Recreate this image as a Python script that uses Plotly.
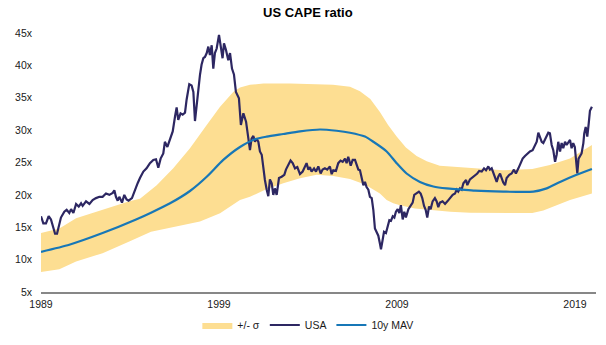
import plotly.graph_objects as go

# US CAPE ratio (decimal year, value)
usa_t = [
    1989.00, 1989.13, 1989.28, 1989.43, 1989.56, 1989.66, 1989.79, 1989.90, 1989.99,
    1990.12, 1990.31, 1990.44, 1990.59, 1990.69, 1990.82, 1990.97, 1991.12, 1991.25,
    1991.34, 1991.53, 1991.72, 1991.90, 1992.09, 1992.28, 1992.46, 1992.65, 1992.84,
    1993.03, 1993.12, 1993.21, 1993.31, 1993.40, 1993.55, 1993.68, 1993.81, 1993.92,
    1994.11, 1994.24, 1994.43, 1994.56, 1994.75, 1994.93, 1995.12, 1995.31, 1995.46,
    1995.59, 1995.72, 1995.87, 1995.96, 1996.10, 1996.25, 1996.40, 1996.53, 1996.62,
    1996.71, 1996.84, 1996.96, 1997.09, 1997.18, 1997.33, 1997.46, 1997.56, 1997.65,
    1997.74, 1997.84, 1997.93, 1998.02, 1998.12, 1998.21, 1998.31, 1998.40, 1998.49,
    1998.59, 1998.68, 1998.77, 1998.87, 1999.00, 1999.09, 1999.20, 1999.28, 1999.39,
    1999.52, 1999.62, 1999.73, 1999.84, 1999.95, 2000.03, 2000.12, 2000.23, 2000.37,
    2000.52, 2000.65, 2000.74, 2000.83, 2000.93, 2001.02, 2001.11, 2001.21, 2001.30,
    2001.40, 2001.49, 2001.58, 2001.68, 2001.77, 2001.86, 2001.96, 2002.05, 2002.14,
    2002.24, 2002.37, 2002.52, 2002.67, 2002.76, 2002.89, 2003.02, 2003.14, 2003.27,
    2003.40, 2003.55, 2003.70, 2003.83, 2003.92, 2004.02, 2004.11, 2004.20, 2004.34,
    2004.45, 2004.58, 2004.71, 2004.82, 2004.95, 2005.08, 2005.23, 2005.33, 2005.42,
    2005.57, 2005.70, 2005.83, 2005.95, 2006.08, 2006.17, 2006.26, 2006.40, 2006.51,
    2006.64, 2006.73, 2006.83, 2006.92, 2007.01, 2007.11, 2007.20, 2007.29, 2007.39,
    2007.48, 2007.58, 2007.67, 2007.76, 2007.86, 2007.95, 2008.04, 2008.10, 2008.19,
    2008.27, 2008.38, 2008.47, 2008.57, 2008.66, 2008.76, 2008.85, 2008.94, 2009.04,
    2009.13, 2009.22, 2009.32, 2009.41, 2009.50, 2009.64, 2009.77, 2009.88, 2009.97,
    2010.10, 2010.23, 2010.33, 2010.42, 2010.52, 2010.61, 2010.70, 2010.80, 2010.89,
    2011.00, 2011.13, 2011.23, 2011.32, 2011.41, 2011.56, 2011.70, 2011.83, 2011.98,
    2012.13, 2012.26, 2012.35, 2012.44, 2012.54, 2012.63, 2012.73, 2012.88, 2012.95,
    2013.10, 2013.25, 2013.38, 2013.51, 2013.62, 2013.76, 2013.89, 2014.00, 2014.13,
    2014.22, 2014.32, 2014.41, 2014.50, 2014.60, 2014.69, 2014.79, 2014.88, 2014.97,
    2015.07, 2015.16, 2015.31, 2015.44, 2015.57, 2015.68, 2015.82, 2015.95, 2016.06,
    2016.19, 2016.32, 2016.47, 2016.62, 2016.75, 2016.85, 2016.94, 2017.03, 2017.13,
    2017.22, 2017.31, 2017.41, 2017.50, 2017.59, 2017.69, 2017.78, 2017.88, 2017.97,
    2018.06, 2018.16, 2018.25, 2018.34, 2018.44, 2018.53, 2018.62, 2018.72, 2018.81,
    2018.90, 2018.99, 2019.05, 2019.13, 2019.20, 2019.28, 2019.37, 2019.47, 2019.52,
    2019.60, 2019.69, 2019.77, 2019.84, 2019.95,
]
usa_v = [
    16.7, 15.6, 15.6, 16.7, 16.2, 15.1, 14.0, 14.0, 15.1,
    16.5, 17.4, 17.7, 17.2, 17.8, 17.2, 18.6, 18.2, 18.7,
    18.3, 19.0, 18.6, 19.2, 19.5, 19.7, 19.7, 20.2, 20.0,
    20.3, 20.7, 19.7, 19.1, 19.7, 18.8, 20.0, 19.3, 19.1,
    19.5, 20.5, 21.8, 22.6, 23.6, 24.1, 24.9, 25.4, 25.5,
    24.2, 25.6, 26.4, 28.2, 27.4, 28.7, 29.8, 32.1, 33.5,
    31.6, 32.6, 32.4, 32.7, 34.7, 37.1, 36.9, 35.9, 31.4,
    33.9, 35.9, 38.5, 40.1, 41.1, 41.3, 41.9, 42.9, 41.6,
    43.1, 39.5, 41.9, 42.6, 44.7, 42.9, 41.1, 43.4, 42.4,
    40.8, 41.9, 39.5, 38.6, 35.9, 35.4, 34.9, 30.8, 32.6,
    31.3, 28.7, 26.9, 28.7, 29.1, 28.2, 28.7, 28.2, 26.7,
    26.2, 24.1, 22.3, 20.8, 19.8, 22.4, 21.8, 20.0, 21.0,
    20.0, 22.6, 22.8, 23.1, 23.9, 24.6, 25.3, 24.9, 24.1,
    24.3, 23.2, 23.6, 24.4, 24.9, 23.9, 24.3, 23.6, 24.1,
    23.6, 24.4, 23.3, 23.9, 24.1, 23.9, 24.4, 23.2, 23.8,
    23.7, 24.9, 25.3, 25.1, 25.6, 24.9, 25.9, 24.5, 25.4,
    25.4, 24.6, 23.9, 23.8, 22.8, 21.5, 22.0, 21.2, 20.8,
    19.7, 19.5, 17.7, 14.8, 14.1, 13.7, 12.5, 11.6, 13.0,
    14.3, 14.1, 15.1, 16.1, 16.0, 16.7, 16.5, 17.4, 17.8,
    17.2, 18.4, 16.2, 17.4, 16.5, 17.8, 18.3, 18.8, 20.0,
    20.3, 20.5, 20.2, 19.5, 18.3, 17.7, 16.5, 18.2, 17.8,
    19.0, 19.5, 19.0, 18.1, 18.8, 19.0, 18.6, 19.0, 19.5,
    20.0, 20.2, 20.8, 20.5, 21.0, 20.8, 21.8, 22.3, 21.5,
    22.4, 22.7, 23.1, 23.3, 23.7, 23.6, 24.1, 23.8, 24.4,
    23.9, 24.1, 23.4, 22.8, 22.0, 22.8, 23.3, 22.6, 21.9,
    21.5, 22.6, 23.1, 23.3, 23.9, 23.3, 24.1, 25.1, 25.6,
    26.0, 26.4, 26.7, 26.9, 27.7, 28.2, 29.6, 29.0, 28.2,
    28.0, 28.5, 29.0, 29.6, 29.5, 27.7, 26.9, 25.1, 26.2,
    28.2, 26.7, 28.0, 27.2, 28.2, 27.7, 28.2, 28.5, 27.2,
    28.0, 27.4, 24.9, 23.3, 25.6, 25.9, 26.4, 28.0, 29.5,
    30.5, 29.0, 31.0, 33.0, 33.6,
]

# 10-year moving average
mav_t = [1989.00, 1990.59, 1992.46, 1994.34, 1995.18, 1996.25, 1997.37, 1998.31,
         1999.24, 2000.18, 2001.02, 2001.68, 2002.61, 2003.55, 2004.67, 2005.61,
         2006.36, 2007.20, 2007.67, 2008.42, 2008.98, 2009.54, 2010.29, 2011.04,
         2011.79, 2012.54, 2013.38, 2014.97, 2016.66, 2017.41, 2018.16, 2019.09, 2019.95]
mav_v = [11.2, 12.3, 14.1, 16.2, 17.25, 18.7, 20.6, 22.8,
         25.4, 27.4, 28.6, 29.0, 29.4, 29.8, 30.1, 29.9,
         29.6, 29.0, 28.2, 26.7, 24.9, 23.3, 22.0, 21.3,
         21.0, 20.85, 20.65, 20.5, 20.5, 21.0, 22.0, 23.1, 24.0]

# +/- one standard deviation envelope
upper_t = [1989.00, 1990.03, 1990.97, 1992.46, 1993.96, 1994.56, 1995.50, 1996.43,
           1997.37, 1998.31, 1999.06, 1999.80, 2000.18, 2000.74, 2001.50, 2003.00,
           2005.40, 2006.36, 2006.92, 2007.50, 2008.04, 2008.50, 2008.98, 2009.50,
           2010.10, 2010.67, 2011.40, 2012.00, 2013.10, 2014.96, 2016.60, 2017.59,
           2018.72, 2019.95]
upper_v = [14.1, 14.8, 16.4, 17.7, 19.0, 19.4, 21.5, 24.1,
           27.2, 30.8, 33.6, 35.9, 36.6, 37.0, 37.2, 37.2,
           37.0, 36.7, 36.0, 34.8, 32.8, 30.8, 29.0, 27.3,
           26.0, 25.2, 24.5, 24.4, 24.2, 23.8, 24.0, 24.6,
           25.6, 27.7]
lower_t = [1989.00, 1990.03, 1990.97, 1992.46, 1993.96, 1995.18, 1996.50, 1997.93,
           1999.06, 2000.18, 2000.74, 2001.68, 2002.61, 2003.55, 2004.49, 2005.42,
           2006.36, 2007.20, 2008.04, 2008.42, 2008.79, 2009.17, 2010.00, 2011.00,
           2012.00, 2013.10, 2016.60, 2017.22, 2017.97, 2018.72, 2019.95]
lower_v = [8.1, 8.5, 9.7, 11.0, 12.8, 14.3, 15.1, 15.9,
           17.15, 19.2, 19.7, 20.9, 21.8, 22.55, 23.1, 22.9,
           22.45, 21.6, 20.2, 19.2, 18.7, 18.4, 17.9, 17.6,
           17.4, 17.25, 17.2, 17.6, 18.4, 19.2, 20.2]

year_ticks = [1989, 1999, 2009, 2019]
y_ticks = [5, 10, 15, 20, 25, 30, 35, 40, 45]

FONT = "Liberation Sans, Arial, sans-serif"

fig = go.Figure()

fig.add_trace(go.Scatter(
    x=upper_t + lower_t[::-1],
    y=upper_v + lower_v[::-1],
    fill="toself",
    fillcolor="#FDDE92",
    line=dict(width=0, color="#FDDE92"),
    mode="lines",
    name="+/- σ",
    hoverinfo="skip",
))
fig.add_trace(go.Scatter(
    x=usa_t, y=usa_v, mode="lines", name="USA",
    line=dict(color="#2D2762", width=2.2),
))
fig.add_trace(go.Scatter(
    x=mav_t, y=mav_v, mode="lines", name="10y MAV",
    line=dict(color="#1777B7", width=2.2, shape="spline", smoothing=0.6),
))

fig.update_layout(
    width=606, height=345,
    margin=dict(l=41, r=10, t=33, b=53, autoexpand=False),
    paper_bgcolor="white", plot_bgcolor="white",
    font=dict(family=FONT, size=10.5, color="#1a1a1a"),
    title=dict(
        text="<b>US CAPE ratio</b>",
        font=dict(family=FONT, size=13, color="#000000"),
        xref="container", x=0.508, xanchor="center",
        yref="container", y=0.965, yanchor="middle",
    ),
    showlegend=True,
    legend=dict(
        orientation="h",
        xref="container", x=0.508, xanchor="center",
        yref="container", y=0.058, yanchor="middle",
        font=dict(family=FONT, size=10.5, color="#1a1a1a"),
        itemwidth=30,
        traceorder="normal",
    ),
    xaxis=dict(
        range=[1989, 2020.18],
        tickmode="array", tickvals=year_ticks,
        ticktext=[str(y) for y in year_ticks],
        showgrid=False, zeroline=False,
        showline=True, linecolor="#878787", linewidth=2,
        ticks="", ticklabelstandoff=1,
    ),
    yaxis=dict(
        range=[5, 45],
        tickmode="array", tickvals=y_ticks,
        ticktext=[f"{v}x" for v in y_ticks],
        showgrid=False, zeroline=False, showline=False,
        ticks="", ticklabelstandoff=8,
    ),
)

fig.write_html("out.html")
